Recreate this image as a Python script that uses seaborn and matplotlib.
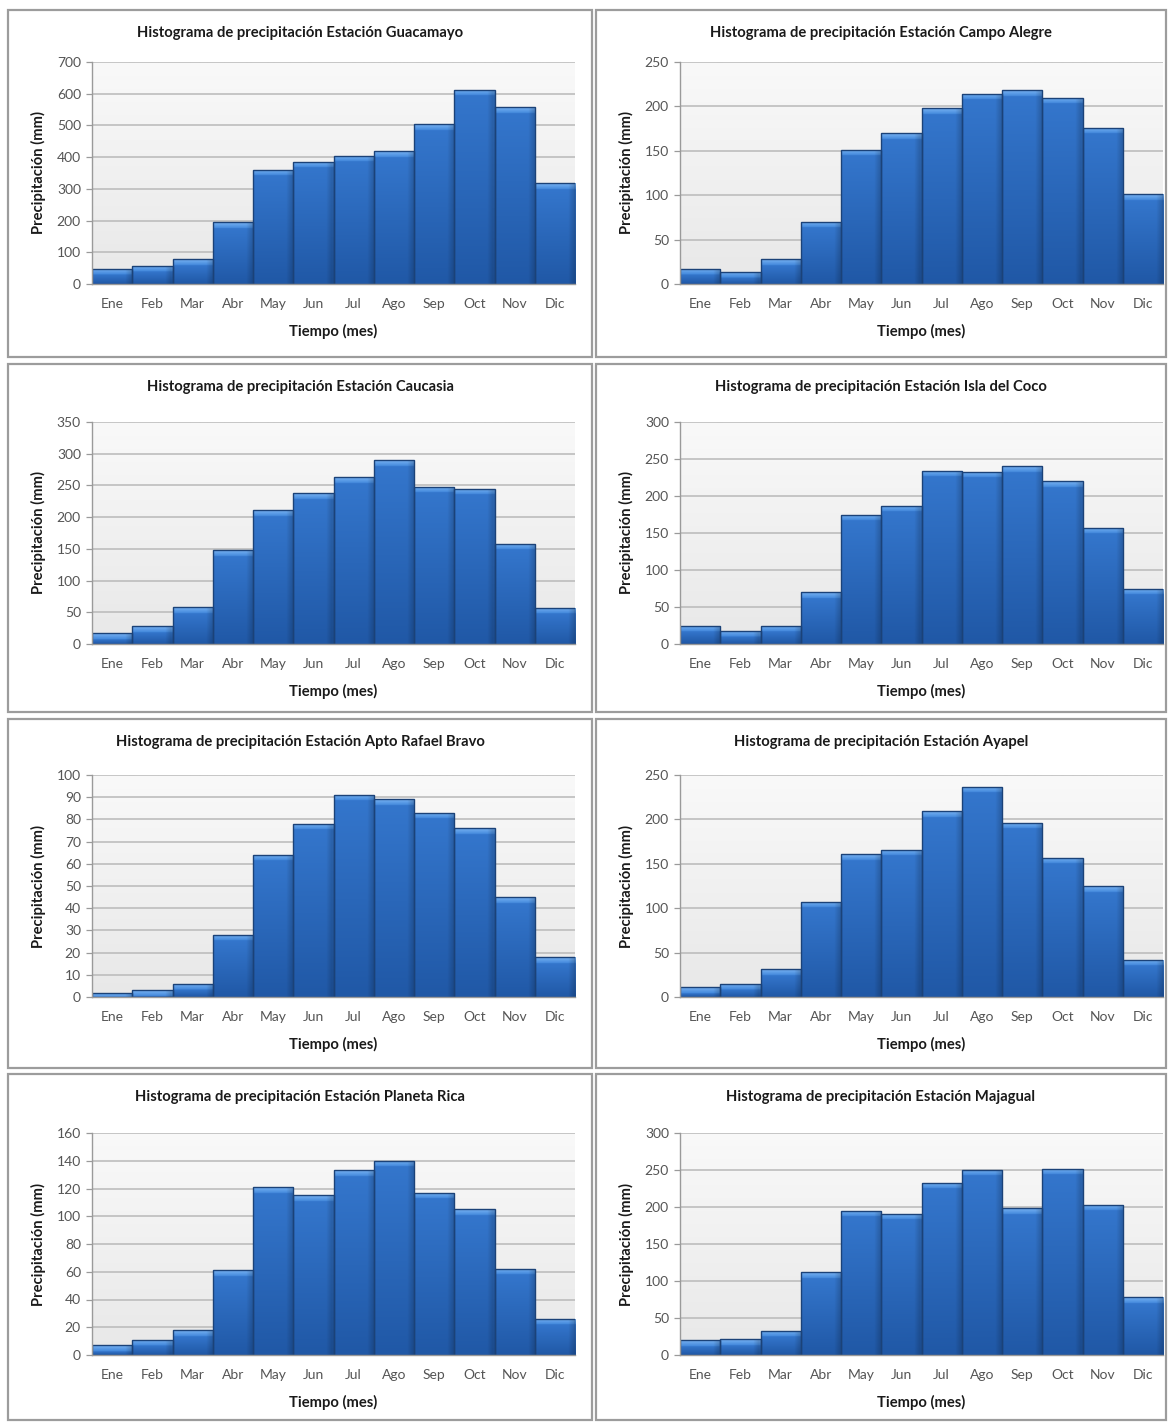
import numpy as np
import pandas as pd
import matplotlib
matplotlib.use("Agg")
import matplotlib.pyplot as plt
import seaborn as sns
from matplotlib.patches import Rectangle
from matplotlib.colors import to_rgb

# Monthly precipitation (mm) per station
meses = ["Ene", "Feb", "Mar", "Abr", "May", "Jun", "Jul", "Ago", "Sep", "Oct", "Nov", "Dic"]

guacamayo = [48, 58, 78, 195, 360, 385, 405, 418, 503, 612, 558, 318]
campo_alegre = [17, 14, 28, 70, 151, 170, 198, 214, 218, 210, 176, 101]
caucasia = [17, 28, 58, 148, 211, 238, 263, 290, 248, 245, 158, 57]
isla_del_coco = [25, 18, 25, 70, 175, 187, 234, 233, 240, 220, 157, 75]
apto_rafael_bravo = [2, 3, 6, 28, 64, 78, 91, 89, 83, 76, 45, 18]
ayapel = [11, 15, 31, 107, 161, 166, 209, 237, 196, 157, 125, 42]
planeta_rica = [7, 11, 18, 61, 121, 115, 133, 140, 117, 105, 62, 26]
majagual = [20, 21, 33, 112, 195, 191, 233, 250, 198, 252, 203, 78]

estaciones = ["Guacamayo", "Campo Alegre", "Caucasia", "Isla del Coco",
              "Apto Rafael Bravo", "Ayapel", "Planeta Rica", "Majagual"]
series = [guacamayo, campo_alegre, caucasia, isla_del_coco,
          apto_rafael_bravo, ayapel, planeta_rica, majagual]
y_max = [700, 250, 350, 300, 100, 250, 160, 300]
y_step = [100, 50, 50, 50, 10, 50, 20, 50]

sns.set_theme(style="white")
plt.rcParams["font.family"] = ["Lato", "DejaVu Sans"]

W, H = 1168, 1422
fig = plt.figure(figsize=(W / 100, H / 100), dpi=100)

# layout in pixels
plot_left = [92, 680]
plot_w = 483
plot_top = [62, 422, 775, 1133]
plot_h = 222
panel_x = [(8, 592), (596, 1166)]
panel_y = [(10, 357), (364, 712), (719, 1068), (1074, 1420)]

def px_box(x0, y0, w, h):
    return [x0 / W, 1 - (y0 + h) / H, w / W, h / H]

band_top = np.array(to_rgb("#78b2f2"))
band_bot = np.array(to_rgb("#4288dc"))
body_top = np.array(to_rgb("#3476cc"))
body_bot = np.array(to_rgb("#2058a6"))

for i, (name, vals) in enumerate(zip(estaciones, series)):
    row, col = divmod(i, 2)

    # panel frame
    px0, px1 = panel_x[col]
    py0, py1 = panel_y[row]
    fig.patches.append(Rectangle((px0 / W, 1 - py1 / H), (px1 - px0) / W, (py1 - py0) / H,
                                 transform=fig.transFigure, fill=False,
                                 edgecolor="#9c9c9c", linewidth=1.6, zorder=0))
    fig.text((px0 + px1) / 2 / W, 1 - (py0 + 23) / H,
             f"Histograma de precipitación Estación {name}",
             ha="center", va="center", fontsize=10.6, fontweight="bold", color="#1a1a1a")

    ax = fig.add_axes(px_box(plot_left[col], plot_top[row], plot_w, plot_h))
    ymax = y_max[i]

    # plot-area background gradient
    bg = np.linspace(0, 1, 100)[:, None]
    c_top = np.array(to_rgb("#f9f9f9"))
    c_bot = np.array(to_rgb("#e8e8e8"))
    bg_img = c_top * (1 - bg[..., None]) + c_bot * bg[..., None]
    ax.imshow(bg_img, extent=[0, 1, 0, 1], transform=ax.transAxes,
              aspect="auto", zorder=0)

    df = pd.DataFrame({"mes": meses, "pp": vals})
    sns.barplot(data=df, x="mes", y="pp", ax=ax, width=1.0, color="#2e6cc4",
                edgecolor="#1b4278", linewidth=1.0, zorder=3)

    ax.set_xlim(-0.5, 11.5)
    ax.set_ylim(0, ymax)
    ax.set_yticks(np.arange(0, ymax + 1, y_step[i]))
    ax.yaxis.grid(True, color="#bdbdbd", linewidth=1.2, zorder=1)
    ax.set_axisbelow(True)

    # bevelled gradient fill for each bar
    band_px = 6.0
    for p in ax.patches:
        h = p.get_height()
        if h <= 0:
            continue
        x0 = p.get_x()
        w = p.get_width()
        bar_px = h / ymax * plot_h
        n = max(int(bar_px * 2), 4)
        d = np.linspace(0, bar_px, n)  # distance from top in px
        cols = np.zeros((n, 3))
        for k, dk in enumerate(d):
            if dk < band_px:
                t = dk / band_px
                cols[k] = band_top * (1 - t) + band_bot * t
            else:
                t = (dk - band_px) / max(bar_px - band_px, 1)
                cols[k] = body_top * (1 - t) + body_bot * t
        img = cols[:, None, :].repeat(8, axis=1)
        # slight darkening on the right flank
        img[:, -1, :] *= 0.85
        im = ax.imshow(img, extent=[x0, x0 + w, 0, h], aspect="auto",
                       zorder=2.5, interpolation="bilinear")
        im.set_clip_path(p)
        p.set_facecolor("none")
        p.set_zorder(3)

    ax.set_xlim(-0.5, 11.5)
    ax.set_ylim(0, ymax)

    for s in ["top", "right"]:
        ax.spines[s].set_visible(False)
    for s in ["left", "bottom"]:
        ax.spines[s].set_color("#9a9a9a")
        ax.spines[s].set_linewidth(1.0)
        ax.spines[s].set_zorder(4)

    ax.set_xticks(range(12))
    ax.set_xticklabels(meses)
    ax.set_xticks(np.arange(-0.5, 12, 1), minor=True)
    ax.tick_params(axis="x", which="major", length=0, pad=10,
                   labelsize=10, labelcolor="#555555")
    ax.tick_params(axis="x", which="minor", length=5, width=0.9,
                   color="#9a9a9a", direction="out")
    ax.tick_params(axis="y", which="major", length=4, width=0.9,
                   color="#9a9a9a", direction="out", pad=4,
                   labelsize=10, labelcolor="#555555", left=True)

    ax.set_xlabel("Tiempo (mes)", fontsize=10.6, fontweight="bold", color="#1a1a1a")
    ax.set_ylabel("Precipitación (mm)", fontsize=10.6, fontweight="bold", color="#1a1a1a")
    ax.xaxis.set_label_coords(0.5, -47 / plot_h)
    ax.xaxis.label.set_va("center")
    ax.yaxis.set_label_coords(-(plot_left[col] - (38 if col == 0 else 626)) / plot_w, 0.5)
    ax.yaxis.label.set_va("center")

fig.savefig("out.png", dpi=100, facecolor="white")
